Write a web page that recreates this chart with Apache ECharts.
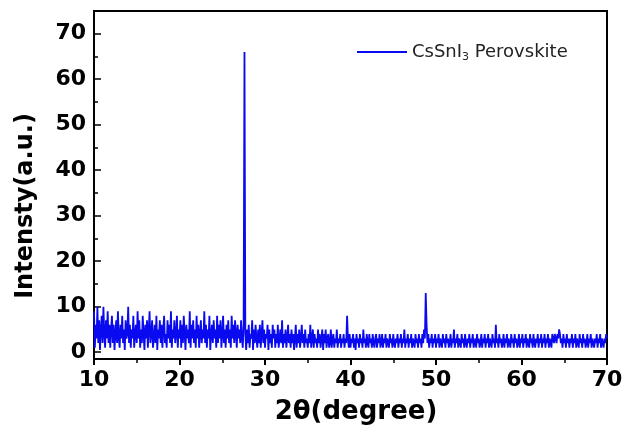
<!DOCTYPE html>
<html><head><meta charset="utf-8">
<script src="https://cdn.jsdelivr.net/npm/echarts@6/dist/echarts.min.js"></script>
<style>html,body{margin:0;padding:0;background:#fff}#c{width:627px;height:435px}</style>
</head><body><div id="c"></div>
<script>
// 2θ scan: start angle and step (degrees)
var angleStart = 10.0;
var angleStep = 0.1;
// Intensity (a.u.), one row per degree (10 steps)
var intensity = [
 9,1,6,3,10,2,7,0.5,5,8,
 2,10,4,1,7,3,9,2,6,1,
 5,8,2,6,0.5,4,7,2,9,3,
 1,6,3,8,2,5,0.5,7,3,4,
 10,2,6,1,5,3,8,1,4,6,
 2,9,3,7,1,5,2,8,4,0.5,
 6,3,7,1,5,9,2,4,7,1,
 3,6,2,8,0.5,5,3,7,2,6,
 1,5,8,2,4,1,7,3,6,2,
 9,1,5,3,7,2,4,8,1,5,
 3,7,1,6,2,8,4,0.5,6,3,
 5,2,9,1,6,3,7,2,5,1,
 8,3,6,1,4,7,2,5,3,9,
 2,6,1,5,3,8,0.5,4,6,2,
 7,3,5,1,8,2,6,3,7,1,
 4,8,2,5,1,6,3,7,2,5,
 1,8,3,6,2,7,4,1,6,3,
 5,2,7,3,1,6,66,4,0.5,5,
 2,6,1,4,3,7,0.5,5,2,6,
 3,1,5,2,6,1,4,7,2,5,
 1,4,3,6,0.5,5,2,4,1,6,
 3,5,1,4,2,6,1,3,5,2,
 7,1,4,2,5,1,3,6,2,4,
 1,5,2,4,0.5,3,6,1,4,2,
 5,1,3,6,2,4,1,5,2,3,
 1,4,2,6,1,3,5,1,4,2,
 3,1,5,2,4,1,3,5,0.5,4,
 2,5,1,3,4,1,2,5,1,3,
 4,1,3,2,5,1,3,2,4,1,
 3,2,4,1,3,2,8,3,1,4,
 1,3,2,4,1,3,0.5,4,2,3,
 1,4,2,3,1,5,2,3,1,4,
 2,1,4,2,3,1,4,2,1,3,
 4,1,3,2,4,1,2,4,1,3,
 2,4,1,3,2,1,4,2,3,1,
 4,2,1,3,2,4,1,3,2,4,
 1,3,2,5,1,3,2,4,1,3,
 2,4,1,3,2,1,4,2,3,1,
 4,2,3,1,4,2,5,3,13,6,
 2,4,1,3,2,4,1,3,2,4,
 1,3,2,4,1,3,2,1,4,2,
 3,1,4,2,3,1,2,4,1,3,
 2,5,1,3,2,4,1,3,2,1,
 4,2,3,1,4,2,1,3,2,4,
 1,3,2,4,1,2,3,1,4,2,
 3,1,2,4,1,3,2,4,1,3,
 2,4,1,3,2,1,4,2,3,1,
 6,2,3,1,4,2,3,1,2,4,
 1,3,2,4,1,3,2,1,4,2,
 3,1,4,2,3,1,2,4,1,3,
 2,4,1,3,2,4,1,3,2,1,
 4,2,3,1,4,2,1,3,2,4,
 1,3,2,4,1,3,2,4,1,3,
 2,4,1,3,2,1,4,3,2,4,
 3,2,4,3,5,4,2,3,1,4,
 2,3,1,4,2,3,1,3,2,4,
 1,3,2,4,1,3,2,1,4,2,
 3,1,4,2,3,1,2,4,1,3,
 2,4,1,3,2,1,3,2,4,1,
 3,2,4,1,3,2,1,3,2,4,
 3
];
var yTicks = [0,10,20,30,40,50,60,70];
var yMinorTicks = [5,15,25,35,45,55,65];
var seriesName = 'CsSnI3 Perovskite';

var pts = intensity.map(function(v,i){ return [+(angleStart + i*angleStep).toFixed(2), v]; });

var chart = echarts.init(document.getElementById('c'), null, {renderer:'canvas'});
var FF = 'DejaVu Sans, Liberation Sans, Arial, sans-serif';
var lblFont = {fontFamily:FF, fontWeight:'bold', fontSize:22, color:'#000'};
chart.setOption({
  animation:false,
  grid:{left:94,right:20,top:11,bottom:76,show:true,borderColor:'#000',borderWidth:2,backgroundColor:'transparent'},
  legend:{
    show:true, left:352, top:38, itemWidth:50, itemHeight:2, itemGap:4,
    data:[{name:seriesName, icon:'rect'}],
    formatter:function(){ return '{a|CsSnI}{b|3}{a| Perovskite}'; },
    textStyle:{rich:{
      a:{fontFamily:FF,fontSize:18,color:'#222'},
      b:{fontFamily:FF,fontSize:11,color:'#222',padding:[11,0,0,0]}
    }}
  },
  xAxis:{
    type:'value', min:10, max:70, interval:10,
    name:'2θ(degree)', nameLocation:'middle', nameGap:40,
    nameTextStyle:{fontFamily:FF,fontWeight:'bold',fontSize:26,color:'#000',padding:[0,0,0,11]},
    axisLine:{onZero:false,lineStyle:{color:'#000',width:2}},
    axisTick:{show:true,inside:false,length:6,lineStyle:{color:'#000',width:2}},
    minorTick:{show:true,splitNumber:2,length:4,lineStyle:{color:'#000',width:1.5}},
    axisLabel:Object.assign({margin:10},lblFont),
    splitLine:{show:false}
  },
  yAxis:[{
    type:'value', min:-1.5, max:75,
    name:'Intensty(a.u.)', nameLocation:'middle', nameGap:56,
    nameTextStyle:{fontFamily:FF,fontWeight:'bold',fontSize:24,color:'#000',padding:[0,42,0,0]},
    axisLine:{show:true,lineStyle:{color:'#000',width:2}},
    axisTick:{show:true,inside:true,length:7,customValues:yTicks,lineStyle:{color:'#000',width:1.5}},
    axisLabel:Object.assign({margin:8,customValues:yTicks},lblFont),
    splitLine:{show:false}
  },{
    type:'value', min:-1.5, max:75, position:'left',
    axisLine:{show:false},
    axisTick:{show:true,inside:true,length:4,customValues:yMinorTicks,lineStyle:{color:'#000',width:1.5}},
    axisLabel:{show:false,customValues:yMinorTicks},
    splitLine:{show:false}
  }],
  series:[{
    name:seriesName, type:'line', data:pts, yAxisIndex:0,
    symbol:'none', lineStyle:{color:'#0a0af0',width:1.8}, itemStyle:{color:'#0a0af0'}
  }]
});
</script></body></html>
